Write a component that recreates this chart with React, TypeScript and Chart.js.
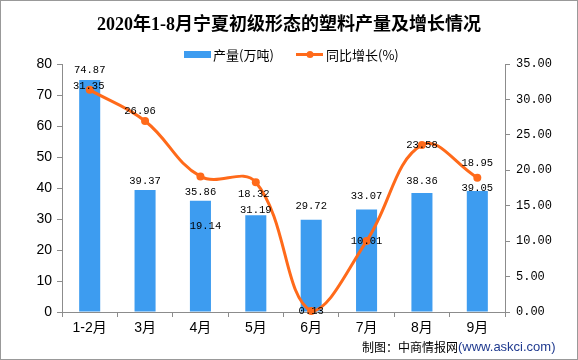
import React, { useEffect, useRef } from "react";
import { Chart, registerables } from "chart.js";

Chart.register(...registerables);

const categories = ["1-2月", "3月", "4月", "5月", "6月", "7月", "8月", "9月"];
const output = [74.87, 39.37, 35.86, 31.19, 29.72, 33.07, 38.36, 39.05];
const growth = [31.35, 26.96, 19.14, 18.32, 0.13, 10.01, 23.58, 18.95];

// label placement tweaks (style config)
const barLabelDy = [-10, -9, -9, -5, -14, -13, -12, -3];
const lineLabelOff: [number, number][] = [
  [-1, -4], [-5, -10], [5, 50], [-2, 12], [0, 0], [0, 0], [0, 0], [0, -15],
];

const BAR_COLOR = "#3D9CF0";
const LINE_COLOR = "#FF6A1A";
const AXIS_COLOR = "#8C8C8C";
const CJK = '"Noto Sans CJK SC"';

export default function App() {
  const ref = useRef<HTMLCanvasElement | null>(null);
  useEffect(() => {
    document.body.style.margin = "0";
    const canvas = ref.current!;
    const deco = {
      id: "deco",
      afterDatasetsDraw(chart: any) {
        const ctx = chart.ctx;
        ctx.save();
        ctx.fillStyle = "#000";
        ctx.textAlign = "center";
        ctx.textBaseline = "middle";
        ctx.font = '10.5px "Liberation Mono", monospace';
        const bm = chart.getDatasetMeta(0);
        bm.data.forEach((el: any, i: number) => {
          ctx.fillText(output[i].toFixed(2), el.x, el.y + barLabelDy[i]);
        });
        const lm = chart.getDatasetMeta(1);
        lm.data.forEach((el: any, i: number) => {
          const [dx, dy] = lineLabelOff[i];
          ctx.fillText(growth[i].toFixed(2), el.x + dx, el.y + dy);
        });
        ctx.restore();
      },
      afterDraw(chart: any) {
        const ctx = chart.ctx;
        ctx.save();
        // title
        ctx.fillStyle = "#000";
        ctx.textAlign = "center";
        ctx.textBaseline = "middle";
        ctx.font = `bold 18px "Liberation Serif", ${CJK}`;
        ctx.fillText("2020年1-8月宁夏初级形态的塑料产量及增长情况", 289, 25);
        // legend
        ctx.fillStyle = BAR_COLOR;
        ctx.fillRect(184, 51, 27, 7);
        ctx.fillStyle = "#000";
        ctx.textAlign = "left";
        ctx.font = `13px ${CJK}`;
        ctx.fillText("产量(万吨)", 213, 55);
        ctx.strokeStyle = LINE_COLOR;
        ctx.lineWidth = 3;
        ctx.beginPath();
        ctx.moveTo(296, 54.5);
        ctx.lineTo(323, 54.5);
        ctx.stroke();
        ctx.fillStyle = LINE_COLOR;
        ctx.beginPath();
        ctx.arc(310, 54.5, 3.5, 0, Math.PI * 2);
        ctx.fill();
        ctx.fillStyle = "#000";
        ctx.fillText("同比增长(%)", 326, 55);
        // footer
        ctx.font = `12px ${CJK}`;
        const t1 = "制图：中商情报网";
        ctx.fillText(t1, 362, 347);
        const w1 = ctx.measureText(t1).width;
        ctx.fillStyle = "#1F3A8F";
        ctx.font = '13px "Liberation Sans", sans-serif';
        ctx.fillText("(www.askci.com)", 362 + w1, 347);
        // border
        ctx.strokeStyle = "#999";
        ctx.lineWidth = 1;
        ctx.strokeRect(0.5, 0.5, 577, 359);
        ctx.restore();
      },
    };
    const chart = new Chart(canvas, {
      type: "bar",
      data: {
        labels: categories,
        datasets: [
          {
            type: "bar",
            label: "产量(万吨)",
            data: output,
            backgroundColor: BAR_COLOR,
            barPercentage: 0.38,
            categoryPercentage: 1,
            yAxisID: "y",
            order: 1,
          },
          {
            type: "line",
            label: "同比增长(%)",
            data: growth,
            borderColor: LINE_COLOR,
            backgroundColor: LINE_COLOR,
            borderWidth: 3,
            pointRadius: 4,
            pointBackgroundColor: LINE_COLOR,
            pointBorderWidth: 0,
            tension: 0.4,
            yAxisID: "y1",
            clip: false as any,
            order: 0,
          } as any,
        ],
      },
      options: {
        responsive: false,
        animation: false,
        layout: { padding: { top: 64, left: 0, right: 0, bottom: 0 } },
        plugins: {
          legend: { display: false },
          title: { display: false },
          tooltip: { enabled: false },
        },
        scales: {
          x: {
            offset: true,
            grid: {
              display: true,
              drawOnChartArea: false,
              offset: true,
              tickLength: 5,
              color: AXIS_COLOR,
            },
            border: { color: AXIS_COLOR },
            ticks: {
              color: "#000",
              font: { family: `"Liberation Sans", ${CJK}`, size: 14 },
              padding: 3,
            },
            afterFit: (s: any) => {
              s.height = 48;
            },
          },
          y: {
            position: "left",
            min: 0,
            max: 80,
            ticks: {
              stepSize: 10,
              color: "#000",
              font: { family: '"Liberation Sans", sans-serif', size: 14 },
              padding: 5,
            },
            grid: {
              drawOnChartArea: false,
              tickLength: 5,
              color: AXIS_COLOR,
            },
            border: { color: AXIS_COLOR },
            afterFit: (s: any) => {
              s.width = 62;
            },
          },
          y1: {
            position: "right",
            min: 0,
            max: 35,
            ticks: {
              stepSize: 5,
              color: "#000",
              font: { family: '"Liberation Mono", monospace', size: 12 },
              padding: 6,
              callback: (v: any) => Number(v).toFixed(2),
            },
            grid: {
              drawOnChartArea: false,
              tickLength: 5,
              color: AXIS_COLOR,
            },
            border: { color: AXIS_COLOR },
            afterFit: (s: any) => {
              s.width = 73;
            },
          },
        },
      },
      plugins: [deco],
    });
    return () => chart.destroy();
  }, []);
  return <canvas ref={ref} width={578} height={360} style={{ display: "block" }} />;
}
